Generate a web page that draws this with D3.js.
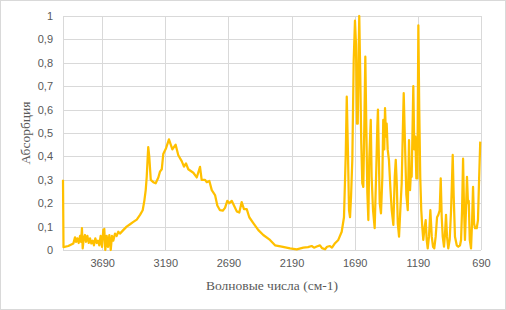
<!DOCTYPE html>
<html>
<head>
<meta charset="utf-8">
<script src="https://cdn.jsdelivr.net/npm/d3@7"></script>
<style>
  body { margin: 0; background: #fff; }
  svg { display: block; }
</style>
</head>
<body>
<svg></svg>
<script>
const wavenumbers = [4000, 3996, 3958, 3918, 3905, 3897, 3887, 3876, 3865, 3857, 3850, 3844, 3836, 3826, 3818, 3807, 3796, 3786, 3776, 3765, 3755, 3744, 3733, 3723, 3713, 3702, 3691, 3681, 3673, 3665, 3654, 3644, 3633, 3622, 3612, 3602, 3588, 3575, 3562, 3549, 3523, 3496, 3469, 3443, 3416, 3390, 3369, 3356, 3345, 3337, 3329, 3325, 3317, 3305, 3285, 3266, 3245, 3232, 3218, 3206, 3184, 3161, 3134, 3108, 3087, 3060, 3042, 3026, 3008, 2968, 2941, 2915, 2902, 2875, 2862, 2841, 2822, 2796, 2778, 2757, 2735, 2717, 2699, 2683, 2664, 2646, 2624, 2604, 2585, 2567, 2545, 2525, 2493, 2453, 2414, 2361, 2321, 2268, 2202, 2149, 2097, 2060, 2031, 2012, 1991, 1965, 1949, 1925, 1909, 1886, 1870, 1846, 1820, 1793, 1775, 1761, 1753, 1745, 1735, 1727, 1719, 1709, 1698, 1688, 1680, 1672, 1666, 1662, 1654, 1646, 1638, 1630, 1622, 1614, 1606, 1598, 1590, 1582, 1575, 1563, 1556, 1545, 1532, 1521, 1511, 1506, 1500, 1492, 1482, 1471, 1464, 1456, 1450, 1442, 1437, 1429, 1419, 1408, 1397, 1384, 1373, 1365, 1357, 1349, 1339, 1329, 1318, 1310, 1302, 1292, 1281, 1270, 1260, 1252, 1244, 1239, 1226, 1218, 1210, 1202, 1194, 1186, 1179, 1171, 1163, 1155, 1147, 1139, 1128, 1120, 1112, 1102, 1091, 1080, 1070, 1060, 1049, 1038, 1028, 1017, 1009, 1001, 993, 983, 975, 967, 959, 949, 938, 927, 922, 914, 906, 896, 882, 870, 856, 848, 840, 832, 824, 817, 809, 801, 793, 787, 779, 769, 761, 753, 745, 737, 724, 714, 706, 696]
const absorbance = [0.30, 0.012, 0.017, 0.028, 0.054, 0.035, 0.05, 0.03, 0.06, 0.035, 0.093, 0.007, 0.05, 0.064, 0.035, 0.06, 0.03, 0.05, 0.028, 0.04, 0.02, 0.05, 0.03, 0.04, 0.02, 0.06, 0.013, 0.085, 0.09, 0.0, 0.06, 0.013, 0.064, 0.0, 0.06, 0.04, 0.07, 0.06, 0.078, 0.07, 0.085, 0.1, 0.11, 0.12, 0.13, 0.15, 0.17, 0.21, 0.256, 0.313, 0.40, 0.44, 0.40, 0.30, 0.29, 0.285, 0.31, 0.335, 0.345, 0.41, 0.435, 0.473, 0.43, 0.45, 0.405, 0.38, 0.356, 0.37, 0.345, 0.33, 0.31, 0.355, 0.30, 0.30, 0.29, 0.295, 0.256, 0.235, 0.19, 0.17, 0.168, 0.18, 0.21, 0.20, 0.21, 0.19, 0.165, 0.16, 0.205, 0.175, 0.175, 0.14, 0.115, 0.085, 0.064, 0.043, 0.02, 0.014, 0.007, 0.003, 0.01, 0.012, 0.017, 0.01, 0.015, 0.02, 0.008, 0.003, 0.014, 0.017, 0.01, 0.029, 0.043, 0.078, 0.14, 0.41, 0.655, 0.455, 0.17, 0.14, 0.23, 0.385, 0.81, 0.98, 0.88, 0.54, 0.54, 0.74, 1.0, 0.74, 0.455, 0.285, 0.27, 0.527, 0.826, 0.52, 0.245, 0.128, 0.385, 0.556, 0.313, 0.17, 0.093, 0.31, 0.527, 0.60, 0.43, 0.20, 0.157, 0.313, 0.556, 0.43, 0.606, 0.484, 0.54, 0.43, 0.385, 0.27, 0.17, 0.107, 0.313, 0.385, 0.285, 0.114, 0.057, 0.17, 0.285, 0.484, 0.67, 0.456, 0.235, 0.17, 0.47, 0.256, 0.34, 0.313, 0.70, 0.43, 0.484, 0.306, 0.306, 0.96, 0.60, 0.31, 0.17, 0.10, 0.043, 0.085, 0.128, 0.043, 0.007, 0.057, 0.17, 0.057, 0.014, 0.007, 0.057, 0.14, 0.15, 0.17, 0.306, 0.14, 0.057, 0.014, 0.07, 0.15, 0.057, 0.007, 0.043, 0.17, 0.256, 0.406, 0.228, 0.057, 0.02, 0.014, 0.02, 0.043, 0.17, 0.39, 0.17, 0.043, 0.17, 0.313, 0.20, 0.21, 0.043, 0.007, 0.114, 0.27, 0.114, 0.093, 0.093, 0.128, 0.285, 0.463]
const xTicks = [3690, 3190, 2690, 2190, 1690, 1190, 690]
const yTicks = [0, 0.1, 0.2, 0.3, 0.4, 0.5, 0.6, 0.7, 0.8, 0.9, 1]
const xTitle = 'Волновые числа (см-1)'
const yTitle = 'Абсорбция'

const width = 506
const height = 310
const margin = {top: 16, right: 25, bottom: 60, left: 63}
const plotW = width - margin.left - margin.right
const plotH = height - margin.top - margin.bottom
const gridColor = '#d9d9d9'
const textColor = '#595959'

const svg = d3.select('svg')
              .attr('width', width)
              .attr('height', height)

svg.append('rect')
   .attr('x', 0.5).attr('y', 0.5)
   .attr('width', width - 1).attr('height', height - 1)
   .attr('fill', '#fff')
   .attr('stroke', gridColor)

const xScale = d3.scaleLinear()
                 .domain([4000, 690])
                 .range([0, plotW])
const yScale = d3.scaleLinear()
                 .domain([0, 1])
                 .range([plotH, 0])

const g = svg.append('g')
             .attr('transform', `translate(${margin.left}, ${margin.top})`)

// gridlines
g.append('g')
 .selectAll('line')
 .data(yTicks)
 .join('line')
 .attr('x1', 0).attr('x2', plotW)
 .attr('y1', d => Math.round(yScale(d)) + 0.5)
 .attr('y2', d => Math.round(yScale(d)) + 0.5)
 .attr('stroke', gridColor)

g.append('g')
 .selectAll('line')
 .data(xTicks)
 .join('line')
 .attr('x1', d => Math.round(xScale(d)) + 0.5)
 .attr('x2', d => Math.round(xScale(d)) + 0.5)
 .attr('y1', 0).attr('y2', plotH)
 .attr('stroke', gridColor)

g.append('line')
 .attr('x1', 0.5).attr('x2', 0.5)
 .attr('y1', 0).attr('y2', plotH)
 .attr('stroke', gridColor)

const yAxis = d3.axisLeft(yScale)
                .tickValues(yTicks)
                .tickSize(0)
                .tickPadding(10)
                .tickFormat(d => d3.format('.1~f')(d).replace('.', ','))

const xAxis = d3.axisBottom(xScale)
                .tickValues(xTicks)
                .tickSize(0)
                .tickPadding(9)
                .tickFormat(d3.format('d'))

g.append('g')
 .call(yAxis)
 .call(a => a.select('.domain').remove())
 .selectAll('text')
 .attr('fill', textColor)
 .style('font-family', '"Liberation Sans", Arial, sans-serif')
 .style('font-size', '11px')

g.append('g')
 .attr('transform', `translate(0, ${plotH})`)
 .call(xAxis)
 .call(a => a.select('.domain').remove())
 .selectAll('text')
 .attr('fill', textColor)
 .style('font-family', '"Liberation Sans", Arial, sans-serif')
 .style('font-size', '11px')

const line = d3.line()
               .x((d, i) => xScale(wavenumbers[i]))
               .y(d => yScale(d))

g.append('path')
 .datum(absorbance)
 .attr('d', line)
 .attr('fill', 'none')
 .attr('stroke', '#ffc000')
 .attr('stroke-width', 2.25)
 .attr('stroke-linejoin', 'round')

svg.append('text')
   .text(xTitle)
   .attr('x', 272)
   .attr('y', 290)
   .attr('text-anchor', 'middle')
   .attr('fill', textColor)
   .style('font-family', '"Liberation Serif", "Times New Roman", serif')
   .style('font-size', '13.5px')

svg.append('text')
   .text(yTitle)
   .attr('transform', `translate(30, ${margin.top + plotH / 2})rotate(-90)`)
   .attr('text-anchor', 'middle')
   .attr('fill', textColor)
   .style('font-family', '"Liberation Serif", "Times New Roman", serif')
   .style('font-size', '13.5px')
</script>
</body>
</html>
